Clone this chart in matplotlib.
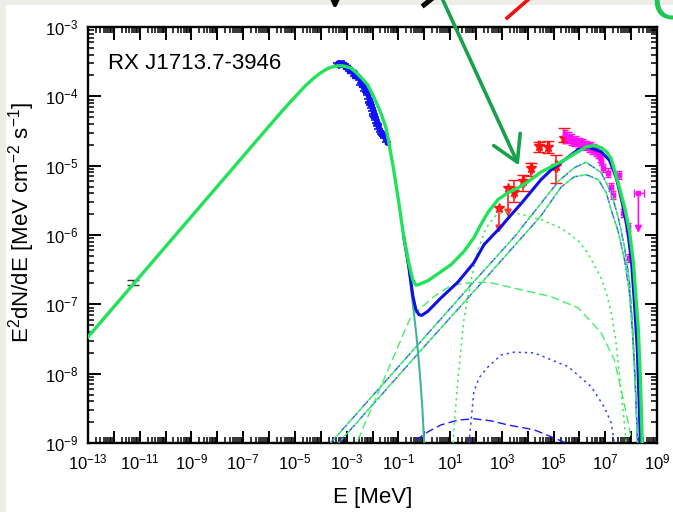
import numpy as np
import matplotlib
matplotlib.use("Agg")
import matplotlib.pyplot as plt
from matplotlib.ticker import FixedLocator, FuncFormatter, NullFormatter
from matplotlib.lines import Line2D
from matplotlib.patches import Rectangle, FancyArrowPatch

plt.rcParams["font.family"] = ["Liberation Sans", "DejaVu Sans"]
plt.rcParams["mathtext.fontset"] = "custom"
plt.rcParams["mathtext.rm"] = "Liberation Sans"
plt.rcParams["mathtext.it"] = "Liberation Sans:italic"
plt.rcParams["mathtext.bf"] = "Liberation Sans:bold"

# ── model curves: log10 E [MeV] / log10 E^2dN/dE ─────────────────────────────
total_logE = [-13.0, -6.0, -5.5, -5.2, -4.9, -4.6, -4.28, -4.0, -3.74, -3.5, -3.35, -3.15,
              -2.84, -2.65, -2.46, -2.19, -1.95, -1.68, -1.49, -1.41, -1.18, -0.98,
              -0.79, -0.60, -0.44, -0.33, -0.25, 0.14, 0.64, 1.03, 1.53, 1.92, 2.19,
              2.47, 2.85, 3.24, 3.63, 4.02, 4.52, 5.00, 5.41, 5.85, 6.26, 6.55,
              6.84, 7.05, 7.23, 7.50, 7.74, 7.93, 8.09, 8.20, 8.28, 8.36, 8.43]
total_logF = [-7.47, -4.43, -4.215, -4.09, -3.97, -3.85, -3.74, -3.66, -3.60, -3.57, -3.56, -3.56,
              -3.59, -3.65, -3.72, -3.83, -4.01, -4.24, -4.44, -4.58, -5.06, -5.54,
              -6.03, -6.40, -6.65, -6.72, -6.72, -6.66, -6.53, -6.43, -6.24, -6.04, -5.85,
              -5.67, -5.49, -5.39, -5.32, -5.23, -5.09, -5.00, -4.92, -4.82, -4.73, -4.71,
              -4.74, -4.80, -4.90, -5.25, -5.59, -5.93, -6.40, -6.98, -7.37, -8.09, -9.0]

sync_logE = [-13.0, -6.0, -5.5, -5.2, -4.9, -4.6, -4.28, -4.0, -3.74, -3.5, -3.35, -3.15,
             -2.84, -2.65, -2.46, -2.19, -1.95, -1.68, -1.49, -1.41, -1.18, -0.98,
             -0.79, -0.60, -0.44, -0.30, -0.18, -0.08, 0.0]
sync_logF = [-7.47, -4.43, -4.215, -4.09, -3.97, -3.85, -3.74, -3.66, -3.60, -3.57, -3.56, -3.56,
             -3.59, -3.65, -3.72, -3.83, -4.01, -4.24, -4.44, -4.58, -5.06, -5.54,
             -6.05, -6.48, -7.00, -7.45, -7.95, -8.45, -9.0]

lep_logE = [-0.79, -0.60, -0.44, -0.32, -0.20, -0.10, 0.14, 0.64, 1.30, 1.92, 2.31,
            2.97, 3.24, 3.74, 4.52, 4.91, 5.41, 5.95, 6.34, 6.84, 7.16, 7.43, 7.66,
            7.85, 8.01, 8.12, 8.24, 8.36]
lep_logF = [-6.03, -6.45, -6.88, -7.08, -7.15, -7.16, -7.10, -6.91, -6.68, -6.40, -6.14,
            -5.88, -5.76, -5.55, -5.20, -5.06, -4.92, -4.77, -4.73, -4.80, -4.92, -5.18,
            -5.54, -5.90, -6.36, -6.94, -7.66, -9.0]

ic1_logE = [-3.62, -2.0, 0.0, 2.0, 3.5, 4.5, 5.2, 5.8, 6.26, 6.84, 7.23, 7.50,
            7.74, 7.93, 8.05, 8.15, 8.25]
ic1_logF = [-9.0, -8.32, -7.48, -6.64, -6.02, -5.55, -5.22, -5.03, -4.95, -5.10,
            -5.39, -5.74, -6.17, -6.65, -7.30, -8.00, -9.0]
ic2_logE = [-3.31, -2.0, 0.0, 2.0, 3.5, 4.5, 5.29, 5.80, 6.26, 6.73, 7.04, 7.23,
            7.50, 7.74, 7.93, 8.05, 8.15, 8.25]
ic2_logF = [-9.0, -8.45, -7.61, -6.78, -6.15, -5.73, -5.31, -5.16, -5.13, -5.20,
            -5.39, -5.64, -5.95, -6.35, -6.82, -7.40, -8.10, -9.0]

brems_logE = [-2.57, -1.57, -0.52, 0.37, 1.03, 1.69, 2.47, 3.63, 4.91, 5.95, 6.84,
              7.35, 7.62, 7.89, 8.01]
brems_logF = [-8.96, -8.09, -7.18, -6.89, -6.73, -6.69, -6.68, -6.78, -6.89, -7.05,
              -7.41, -7.80, -8.24, -8.71, -8.96]

pion_logE = [1.11, 1.30, 1.53, 1.81, 2.08, 2.39, 2.78, 3.16, 3.74, 4.52, 5.29, 5.95,
             6.30, 6.60, 6.84, 7.05, 7.23, 7.40, 7.54, 7.68, 7.81]
pion_logF = [-9.0, -8.09, -7.23, -6.65, -6.21, -5.90, -5.71, -5.67, -5.70, -5.78,
             -5.90, -6.08, -6.25, -6.45, -6.62, -6.85, -7.12, -7.50, -7.99, -8.50, -9.0]

pion2_logE = [1.73, 1.92, 2.12, 2.47, 2.97, 3.47, 4.25, 5.57, 6.46, 6.96, 7.23, 7.35]
pion2_logF = [-9.0, -8.26, -8.06, -7.90, -7.73, -7.69, -7.70, -7.90, -8.19, -8.48,
              -8.71, -9.0]

brems2_logE = [-0.33, 0.14, 0.64, 1.30, 1.92, 2.58, 3.24, 4.25, 4.91, 5.49]
brems2_logF = [-8.96, -8.84, -8.74, -8.67, -8.65, -8.68, -8.74, -8.81, -8.91, -9.0]

# ── data points ───────────────────────────────────────────────────────────────
radio_logE, radio_logF = [-11.26], [-6.69]

xray_logE = [-3.35, -3.27, -3.19, -3.12, -3.04, -2.96, -2.88, -2.81, -2.73, -2.65,
             -2.57, -2.50, -2.42, -2.34, -2.26, -2.23, -2.19, -2.15, -2.11, -2.07,
             -2.03, -1.99, -1.95, -1.92, -1.88, -1.84, -1.80, -1.76, -1.68, -1.61,
             -1.53, -1.45, -3.30, -3.08, -2.90, -2.70, -2.45, -2.30, -2.12, -1.97,
             -1.82, -1.66]
xray_logF = [-3.52, -3.52, -3.53, -3.53, -3.56, -3.57, -3.60, -3.63, -3.65, -3.69,
             -3.72, -3.76, -3.81, -3.85, -3.89, -3.94, -3.98, -4.04, -4.08, -4.12,
             -4.17, -4.21, -4.25, -4.30, -4.34, -4.38, -4.43, -4.47, -4.51, -4.56,
             -4.60, -4.66, -3.55, -3.57, -3.63, -3.70, -3.83, -3.92, -4.10, -4.28,
             -4.40, -4.55]

fermi_logE = [3.47, 3.82, 4.13, 4.44, 4.79, 5.10, 5.41]
fermi_logF = [-5.38, -5.22, -5.03, -4.71, -4.73, -5.00, -4.60]
fermi_lo = [-5.52, -5.36, -5.15, -4.80, -4.82, -5.25, -4.66]
fermi_hi = [-5.20, -5.13, -4.96, -4.66, -4.64, -4.84, -4.45]
fermi_ul_logE = [2.89, 3.24]
fermi_ul_logF = [-5.61, -5.32]
fermi_ul_end = [-5.97, -5.74]

hess_logE = [5.45, 5.52, 5.59, 5.66, 5.73, 5.80, 5.87, 5.94, 6.01, 6.08, 6.15,
             6.22, 6.29, 6.36, 6.43, 6.50, 6.57, 6.64, 6.71, 6.78, 6.85, 6.92,
             7.12, 7.23, 7.31, 7.54, 7.70, 7.89, 7.93]
hess_logF = [-4.55, -4.62, -4.58, -4.64, -4.61, -4.66, -4.63, -4.68, -4.66, -4.70,
             -4.68, -4.72, -4.70, -4.74, -4.72, -4.77, -4.75, -4.80, -4.83, -4.88,
             -4.93, -5.03, -5.10, -5.31, -5.42, -5.13, -5.68, -5.88, -6.33]
hess_ul_logE, hess_ul_logF, hess_ul_end = [8.28], [-5.39], [-5.97]

p = lambda v: 10.0 ** np.asarray(v, dtype=float)


def log_err(logv, half):
    v = p(logv)
    return [v - p(np.asarray(logv) - half), p(np.asarray(logv) + half) - v]


fig = plt.figure(figsize=(6.73, 5.12), dpi=100, facecolor="#eeede7")
fig.patches.append(Rectangle((6 / 673, 0), 1, 507 / 512, transform=fig.transFigure,
                             facecolor="white", edgecolor="none", zorder=-5))
ax = fig.add_axes([88 / 673, 69 / 512, 569 / 673, 416 / 512])
ax.set_facecolor("white")

# data
ax.errorbar(p(radio_logE), p(radio_logF), yerr=log_err(radio_logF, 0.035),
            fmt="none", ecolor="#333333", elinewidth=1, capsize=4, zorder=2)

ax.errorbar(p(xray_logE), p(xray_logF), xerr=log_err(xray_logE, 0.18),
            yerr=log_err(xray_logF, 0.05),
            fmt="s", ms=3, color="#1010ff", elinewidth=1.2, capsize=0, zorder=2)

fe, ff = p(fermi_logE), p(fermi_logF)
ax.errorbar(fe, ff, yerr=[ff - p(fermi_lo), p(fermi_hi) - ff], xerr=log_err(fermi_logE, 0.03),
            fmt="*", ms=7, color="#ff1010", elinewidth=1.1, capsize=4, zorder=2)
ax.plot(p(fermi_ul_logE), p(fermi_ul_logF), "*", ms=7, color="#ff1010", zorder=2)
for e, f0, f1 in zip(fermi_ul_logE, fermi_ul_logF, fermi_ul_end):
    ax.annotate("", xy=(10 ** e, 10 ** f1), xytext=(10 ** e, 10 ** f0),
                arrowprops=dict(arrowstyle="-|>", color="#ff3030", lw=1.3,
                                mutation_scale=10, shrinkA=0, shrinkB=0), zorder=2)

ax.errorbar(p(hess_logE), p(hess_logF), xerr=log_err(hess_logE, 0.07),
            yerr=log_err(hess_logF, 0.06),
            fmt="s", ms=3, color="#ff10f0", elinewidth=1.0, capsize=2.5, zorder=2)
for e, f0, f1 in zip(hess_ul_logE, hess_ul_logF, hess_ul_end):
    ax.errorbar([10 ** e], [10 ** f0], xerr=[[10 ** e - 10 ** (e - 0.18)], [10 ** (e + 0.22) - 10 ** e]],
                fmt="s", ms=3, color="#ff10f0", elinewidth=1.0, capsize=3, zorder=2)
    ax.annotate("", xy=(10 ** e, 10 ** f1), xytext=(10 ** e, 10 ** f0),
                arrowprops=dict(arrowstyle="-|>", color="#ff10f0", lw=1.2,
                                mutation_scale=10, shrinkA=0, shrinkB=0), zorder=2)

# model components
dd_b = (0, (6, 2, 1.5, 2))
dd_g = (5, (6, 2, 1.5, 2))
ax.plot(p(ic1_logE), p(ic1_logF), color="#3050ff", lw=1.0, ls=dd_b, zorder=3)
ax.plot(p(ic1_logE), p(ic1_logF), color="#33ee66", lw=1.0, ls=dd_g, zorder=3)
ax.plot(p(ic2_logE), p(ic2_logF), color="#3050ff", lw=1.0, ls=dd_b, zorder=3)
ax.plot(p(ic2_logE), p(ic2_logF), color="#33ee66", lw=1.0, ls=dd_g, zorder=3)
ax.plot(p(brems_logE), p(brems_logF), color="#44ee66", lw=1.0, ls=(0, (6, 3)), zorder=3)
ax.plot(p(pion_logE), p(pion_logF), color="#33ee55", lw=1.1, ls=(0, (1.5, 2.5)), zorder=3)
ax.plot(p(pion2_logE), p(pion2_logF), color="#3344ff", lw=1.1, ls=(0, (1.5, 2.5)), zorder=3)
ax.plot(p(brems2_logE), p(brems2_logF), color="#1a1aff", lw=1.0, ls=(0, (6, 3)), zorder=3)
ax.plot(p(sync_logE), p(sync_logF), color="#3fb49a", lw=1.5, zorder=3)
ax.plot(p(lep_logE), p(lep_logF), color="#1010e0", lw=2.2, zorder=4, solid_joinstyle="round")
ax.plot(p(total_logE), p(total_logF), color="#22e25a", lw=2.4, zorder=5, solid_joinstyle="round")

ax.set_xscale("log")
ax.set_yscale("log")
ax.set_xlim(1e-13, 1e9)
ax.set_ylim(1e-9, 1e-3)

x_dec = np.arange(-13, 10)
y_dec = np.arange(-9, -2)
ax.xaxis.set_major_locator(FixedLocator(10.0 ** x_dec))
ax.yaxis.set_major_locator(FixedLocator(10.0 ** y_dec))
ax.xaxis.set_minor_locator(FixedLocator([m * 10.0 ** d for d in x_dec[:-1] for m in range(2, 10)]))
ax.yaxis.set_minor_locator(FixedLocator([m * 10.0 ** d for d in y_dec[:-1] for m in range(2, 10)]))


def xfmt(v, pos):
    e = int(round(np.log10(v)))
    return r"$10^{%d}$" % e if e % 2 else ""


ax.xaxis.set_major_formatter(FuncFormatter(xfmt))
ax.yaxis.set_major_formatter(FuncFormatter(lambda v, pos: r"$10^{%d}$" % int(round(np.log10(v)))))
ax.xaxis.set_minor_formatter(NullFormatter())
ax.yaxis.set_minor_formatter(NullFormatter())

ax.tick_params(which="both", direction="in", top=True, right=True, colors="black")
ax.tick_params(which="major", length=9, width=1.4, labelsize=12, pad=7)
ax.tick_params(which="minor", length=4.5, width=1.1)
for s in ax.spines.values():
    s.set_linewidth(1.7)

ax.set_xlabel("E [MeV]", fontsize=16)
ax.xaxis.set_label_coords(0.5, -0.105)
ax.set_ylabel(r"E$^2$dN/dE [MeV cm$^{-2}$ s$^{-1}$]", fontsize=16)
ax.yaxis.set_label_coords(-0.09, 0.53)

ax.text(0.035, 0.913, "RX J1713.7-3946", transform=ax.transAxes, fontsize=16,
        ha="left", va="center")

# slide decorations around the chart
fig.add_artist(FancyArrowPatch((441 / 673, 1 + 4 / 512), (520 / 673, 1 - 168 / 512),
                               transform=fig.transFigure, arrowstyle="->,head_length=0.6,head_width=0.35",
                               mutation_scale=30, lw=2.6, color="#19a04c", zorder=10))
fig.add_artist(Line2D([507 / 673, 530 / 673], [1 - 18 / 512, 1 + 2 / 512],
                      transform=fig.transFigure, lw=2.6, color="#ee1111", zorder=10))
fig.add_artist(Line2D([331 / 673, 335 / 673, 339 / 673], [1 + 4 / 512, 1 - 5 / 512, 1 + 4 / 512],
                      transform=fig.transFigure, lw=3, color="black", zorder=10))
fig.add_artist(Line2D([424 / 673, 434 / 673], [1 - 5 / 512, 1 + 3 / 512],
                      transform=fig.transFigure, lw=3.5, color="black", zorder=10))
fig.text(651 / 673, 1 - 19 / 512, "C", fontsize=38, color="#20c552", ha="left",
         va="baseline", zorder=10)

fig.savefig("out.png", dpi=100, facecolor=fig.get_facecolor())
